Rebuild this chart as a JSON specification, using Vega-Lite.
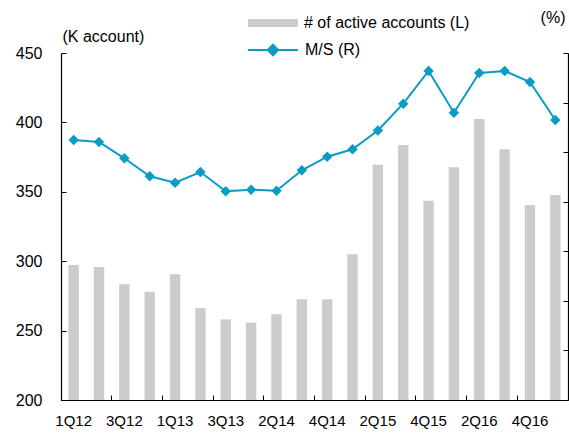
{
  "$schema": "https://vega.github.io/schema/vega-lite/v6.json",
  "width": 507,
  "height": 347,
  "autosize": "none",
  "padding": {"left": 61, "top": 53, "right": 1, "bottom": 35},
  "background": "white",
  "config": {
    "font": "Liberation Sans",
    "view": {"stroke": null},
    "axis": {"grid": false, "domainColor": "#000", "tickColor": "#000", "labelColor": "#000", "titleColor": "#000", "titleFontWeight": "normal", "titleFontSize": 16, "domainWidth": 1.2, "tickWidth": 1}
  },
  "data": {"values": [
    {"q": "1Q12", "acc": 297.3, "ms": 5.245},
    {"q": "2Q12", "acc": 295.8, "ms": 5.205},
    {"q": "3Q12", "acc": 283.4, "ms": 4.876},
    {"q": "4Q12", "acc": 278.0, "ms": 4.513},
    {"q": "1Q13", "acc": 290.6, "ms": 4.384},
    {"q": "2Q13", "acc": 266.3, "ms": 4.599},
    {"q": "3Q13", "acc": 258.1, "ms": 4.210},
    {"q": "4Q13", "acc": 255.7, "ms": 4.242},
    {"q": "2Q14", "acc": 261.7, "ms": 4.222},
    {"q": "3Q14", "acc": 272.6, "ms": 4.634},
    {"q": "4Q14", "acc": 272.6, "ms": 4.908},
    {"q": "1Q15", "acc": 305.0, "ms": 5.057},
    {"q": "2Q15", "acc": 369.5, "ms": 5.437},
    {"q": "3Q15", "acc": 383.7, "ms": 5.977},
    {"q": "4Q15", "acc": 343.6, "ms": 6.637},
    {"q": "1Q16", "acc": 367.6, "ms": 5.796},
    {"q": "2Q16", "acc": 402.5, "ms": 6.597},
    {"q": "3Q16", "acc": 380.6, "ms": 6.637},
    {"q": "4Q16", "acc": 340.5, "ms": 6.415},
    {"q": "1Q17", "acc": 347.7, "ms": 5.648}
  ]},
  "encoding": {
    "x": {
      "field": "q", "type": "ordinal", "sort": null,
      "scale": {"type": "band", "paddingInner": 0, "paddingOuter": 0},
      "axis": {
        "values": ["1Q12", "3Q12", "1Q13", "3Q13", "2Q14", "4Q14", "2Q15", "4Q15", "2Q16", "4Q16"],
        "bandPosition": 0, "tickSize": -5, "labelPadding": 18, "labelAngle": 0,
        "labelFontSize": 15, "title": null
      }
    }
  },
  "layer": [
    {
      "mark": {"type": "bar", "width": {"band": 0.41}},
      "encoding": {
        "y": {
          "field": "acc", "type": "quantitative",
          "scale": {"domain": [200, 450], "zero": false, "nice": false},
          "axis": {
            "values": [200, 250, 300, 350, 400, 450], "tickSize": -5, "labelPadding": 24,
            "labelFontSize": 16, "title": "(K account)", "titleAngle": 0, "titleX": 1, "titleY": -11.5,
            "titleAlign": "left", "titleBaseline": "alphabetic"
          }
        },
        "y2": {"datum": 200},
        "fill": {
          "datum": "# of active accounts (L)",
          "scale": {"range": ["#cccccc"]},
          "legend": {
            "orient": "none", "legendX": 187, "legendY": -55, "title": null,
            "symbolType": "M-1,-0.16H1V0.16H-1Z", "symbolSize": 2500, "symbolStrokeWidth": 0,
            "labelFontSize": 16, "labelOffset": 6, "labelColor": "#000", "labelLimit": 0
          }
        }
      }
    },
    {
      "mark": {"type": "line", "strokeWidth": 2, "point": {"shape": "diamond", "filled": true, "size": 110}},
      "encoding": {
        "y": {
          "field": "ms", "type": "quantitative",
          "scale": {"domain": [0, 7], "nice": false},
          "axis": {
            "orient": "right", "values": [0, 1, 2, 3, 4, 5, 6, 7], "tickSize": -5, "labels": false,
            "title": "(%)", "titleAngle": 0, "titleX": -3, "titleY": -30.5,
            "titleAlign": "right", "titleBaseline": "alphabetic"
          }
        },
        "color": {
          "datum": "M/S (R)",
          "scale": {"range": ["#0a9cc6"]},
          "legend": {
            "orient": "none", "legendX": 186, "legendY": -29, "title": null,
            "symbolType": "M-1,0H1M0,-0.21L0.21,0L0,0.21L-0.21,0Z", "symbolSize": 2500,
            "symbolStrokeWidth": 2, "symbolFillColor": "#0a9cc6", "symbolStrokeColor": "#0a9cc6",
            "labelFontSize": 16, "labelOffset": 6, "labelColor": "#000", "labelLimit": 0
          }
        }
      }
    }
  ],
  "resolve": {"scale": {"y": "independent"}}
}
